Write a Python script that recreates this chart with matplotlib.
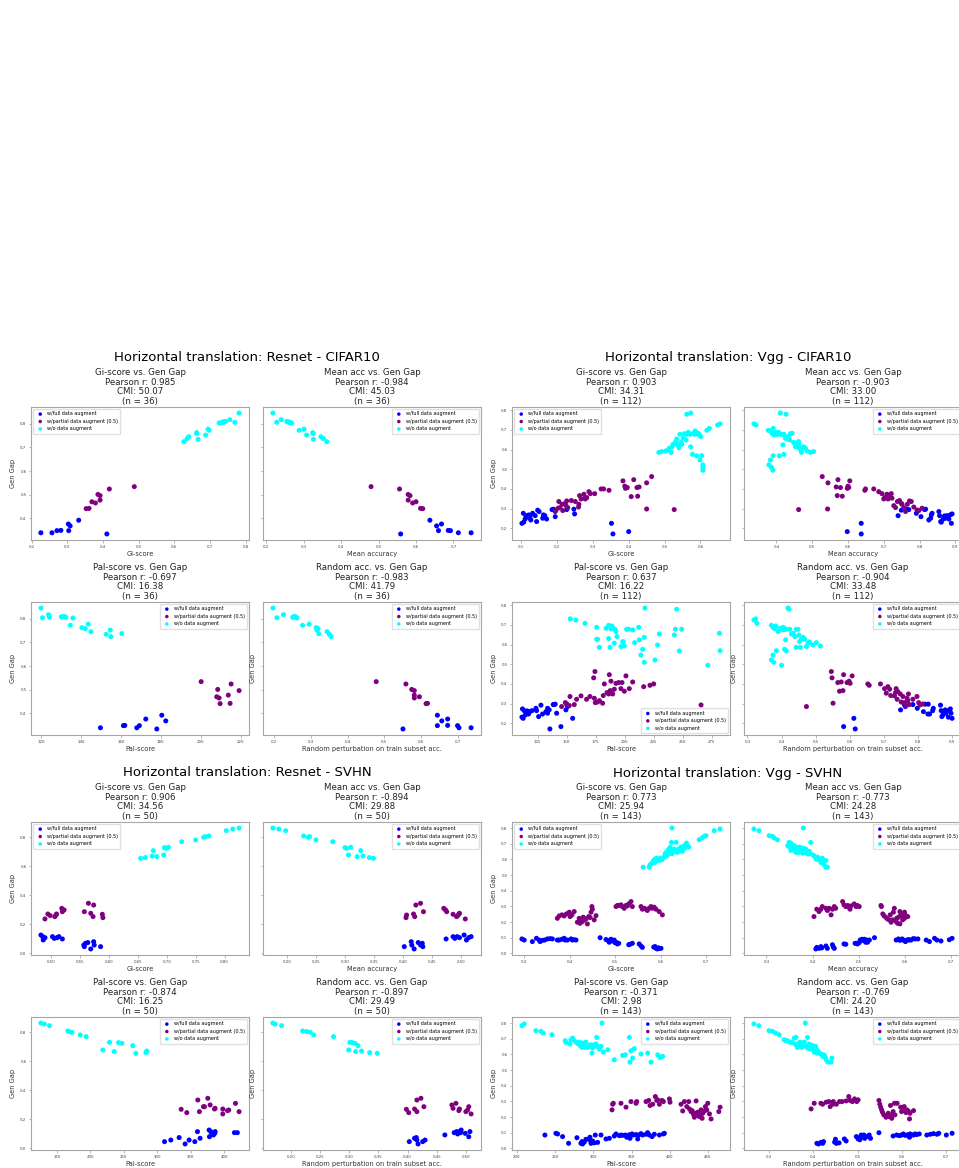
#!/usr/bin/env python3
# -*- coding: utf-8 -*-
"""
Scatter grids: score vs. generalisation gap (horizontal translation),
four model/dataset blocks of 2x2 panels.
"""

import matplotlib
matplotlib.use("Agg")
import matplotlib.pyplot as plt
from matplotlib.ticker import MultipleLocator

# ---------------------------------------------------------------------
# Resnet - CIFAR10  (n = 36)
rc_full_gap = [0.334, 0.339, 0.339, 0.348, 0.348, 0.349, 0.368, 0.376, 0.392]
rc_full_gi = [0.411, 0.226, 0.257, 0.271, 0.304, 0.282, 0.308, 0.303, 0.332]
rc_full_mean = [0.559, 0.713, 0.747, 0.660, 0.692, 0.686, 0.655, 0.668, 0.637]
rc_full_pal = [178.0, 149.8, 168.0, 161.3, 169.3, 162.0, 182.5, 172.5, 180.5]
rc_full_rand = [0.551, 0.704, 0.737, 0.700, 0.645, 0.673, 0.657, 0.673, 0.645]

rc_part_gap = [0.441, 0.442, 0.465, 0.470, 0.477, 0.496, 0.501, 0.524, 0.534]
rc_part_gi = [0.353, 0.361, 0.379, 0.369, 0.392, 0.392, 0.386, 0.418, 0.488]
rc_part_mean = [0.618, 0.612, 0.591, 0.600, 0.579, 0.584, 0.579, 0.556, 0.480]
rc_part_pal = [209.7, 214.7, 209.2, 208.0, 213.8, 219.2, 208.5, 215.2, 200.2]
rc_part_rand = [0.614, 0.618, 0.582, 0.596, 0.582, 0.582, 0.575, 0.559, 0.478]

rc_none_gap = [0.724, 0.734, 0.737, 0.745, 0.752, 0.758, 0.762, 0.772, 0.777,
               0.803, 0.804, 0.806, 0.806, 0.807, 0.808, 0.810, 0.817, 0.845]
rc_none_gi = [0.627, 0.667, 0.636, 0.641, 0.688, 0.663, 0.663, 0.698, 0.695,
              0.726, 0.731, 0.770, 0.739, 0.735, 0.740, 0.744, 0.756, 0.782]
rc_none_mean = [0.362, 0.326, 0.353, 0.346, 0.308, 0.326, 0.324, 0.288, 0.301,
                0.268, 0.265, 0.228, 0.262, 0.260, 0.257, 0.255, 0.240, 0.218]
rc_none_pal = [155.0, 152.7, 160.5, 145.0, 154.7, 142.2, 140.5, 134.7, 143.7,
               136.0, 120.8, 132.5, 124.3, 130.8, 130.2, 131.5, 123.8, 120.0]
rc_none_rand = [0.355, 0.350, 0.321, 0.344, 0.316, 0.319, 0.314, 0.277, 0.295,
                0.262, 0.207, 0.250, 0.256, 0.258, 0.253, 0.255, 0.225, 0.196]

rc_pearson = [0.985, -0.984, -0.697, -0.983]
rc_cmi = [50.07, 45.03, 16.38, 41.79]
rc_n = 36

# ---------------------------------------------------------------------
# Vgg - CIFAR10  (n = 112)
vc_full_gap = [0.171, 0.183, 0.225, 0.225, 0.231, 0.234, 0.242, 0.247, 0.247, 0.251,
               0.251, 0.259, 0.259, 0.263, 0.264, 0.264, 0.264, 0.268, 0.268, 0.273,
               0.276, 0.276, 0.285, 0.292, 0.295, 0.295, 0.297, 0.297]
vc_full_gi = [0.356, 0.400, 0.102, 0.352, 0.107, 0.143, 0.127, 0.171, 0.111, 0.124,
              0.160, 0.118, 0.195, 0.125, 0.113, 0.139, 0.166, 0.121, 0.162, 0.249,
              0.106, 0.132, 0.150, 0.146, 0.186, 0.227, 0.190, 0.247]
vc_full_mean = [0.637, 0.598, 0.889, 0.637, 0.861, 0.859, 0.826, 0.882, 0.866, 0.831,
                0.872, 0.804, 0.880, 0.870, 0.856, 0.877, 0.740, 0.886, 0.833, 0.891,
                0.791, 0.835, 0.854, 0.749, 0.770, 0.814, 0.817, 0.763]
vc_full_pal = [135.6, 145.1, 112.6, 155.2, 111.5, 125.9, 114.4, 129.3, 117.2, 133.6,
               141.4, 118.4, 132.2, 116.0, 113.5, 120.1, 124.1, 135.0, 149.4, 112.0,
               123.6, 133.6, 150.9, 127.9, 139.0, 138.5, 150.0, 140.2]
vc_full_rand = [0.616, 0.582, 0.900, 0.612, 0.889, 0.870, 0.873, 0.829, 0.834, 0.882,
                0.897, 0.816, 0.876, 0.885, 0.843, 0.868, 0.892, 0.880, 0.749, 0.895,
                0.798, 0.845, 0.763, 0.866, 0.785, 0.760, 0.830, 0.821]

vc_part_gap = [0.285, 0.290, 0.293, 0.295, 0.298, 0.302, 0.305, 0.305, 0.308, 0.315,
               0.322, 0.322, 0.327, 0.336, 0.336, 0.339, 0.341, 0.349, 0.349, 0.353,
               0.356, 0.361, 0.363, 0.366, 0.373, 0.376, 0.376, 0.386, 0.393, 0.400,
               0.400, 0.403, 0.407, 0.407, 0.410, 0.414, 0.431, 0.441, 0.447, 0.463]
vc_part_gi = [0.195, 0.216, 0.197, 0.527, 0.450, 0.203, 0.208, 0.230, 0.260, 0.225,
              0.214, 0.261, 0.223, 0.205, 0.251, 0.227, 0.240, 0.267, 0.279, 0.277,
              0.283, 0.407, 0.425, 0.263, 0.275, 0.293, 0.305, 0.289, 0.345, 0.323,
              0.330, 0.391, 0.396, 0.423, 0.429, 0.389, 0.450, 0.384, 0.414, 0.464]
vc_part_mean = [0.761, 0.798, 0.793, 0.462, 0.543, 0.807, 0.756, 0.733, 0.784, 0.728,
                0.751, 0.766, 0.749, 0.777, 0.738, 0.772, 0.744, 0.700, 0.712, 0.723,
                0.703, 0.716, 0.584, 0.570, 0.709, 0.721, 0.695, 0.686, 0.647, 0.649,
                0.672, 0.598, 0.579, 0.602, 0.567, 0.600, 0.544, 0.605, 0.572, 0.528]
vc_part_pal = [145.7, 152.3, 265.8, 156.6, 150.0, 181.0, 148.9, 174.7, 176.7, 178.2,
               167.2, 158.6, 173.9, 152.9, 170.1, 162.4, 181.6, 186.2, 189.7, 188.8,
               184.8, 187.4, 199.7, 187.6, 191.1, 204.0, 196.8, 216.4, 221.8, 225.0,
               182.5, 192.5, 194.8, 197.7, 206.9, 188.2, 173.3, 201.1, 186.8, 174.4]
vc_part_rand = [0.473, 0.765, 0.806, 0.775, 0.814, 0.551, 0.760, 0.802, 0.751, 0.770,
                0.739, 0.785, 0.768, 0.756, 0.797, 0.731, 0.720, 0.748, 0.772, 0.707,
                0.734, 0.741, 0.570, 0.580, 0.717, 0.702, 0.736, 0.712, 0.657, 0.653,
                0.690, 0.601, 0.592, 0.565, 0.575, 0.598, 0.548, 0.607, 0.582, 0.546]

vc_none_gap = [0.495, 0.510, 0.522, 0.547, 0.568, 0.569, 0.576, 0.586, 0.586, 0.590,
               0.593, 0.598, 0.607, 0.610, 0.614, 0.615, 0.624, 0.627, 0.627, 0.631,
               0.637, 0.641, 0.649, 0.654, 0.658, 0.666, 0.675, 0.678, 0.678, 0.678,
               0.678, 0.678, 0.681, 0.683, 0.683, 0.688, 0.688, 0.695, 0.698, 0.708,
               0.725, 0.731, 0.780, 0.786]
vc_none_gi = [0.607, 0.607, 0.607, 0.599, 0.590, 0.604, 0.578, 0.484, 0.518, 0.492,
              0.503, 0.510, 0.513, 0.540, 0.573, 0.521, 0.536, 0.524, 0.548, 0.529,
              0.546, 0.532, 0.560, 0.534, 0.552, 0.601, 0.597, 0.543, 0.562, 0.571,
              0.592, 0.583, 0.555, 0.580, 0.594, 0.566, 0.588, 0.585, 0.618, 0.625,
              0.648, 0.655, 0.562, 0.573]
vc_none_mean = [0.390, 0.386, 0.379, 0.383, 0.408, 0.391, 0.421, 0.470, 0.495, 0.504,
                0.486, 0.468, 0.481, 0.464, 0.476, 0.453, 0.418, 0.456, 0.462, 0.451,
                0.448, 0.462, 0.437, 0.430, 0.425, 0.433, 0.393, 0.411, 0.421, 0.400,
                0.402, 0.416, 0.439, 0.444, 0.388, 0.406, 0.397, 0.384, 0.377, 0.391,
                0.343, 0.337, 0.427, 0.411]
vc_none_pal = [271.6, 216.9, 226.1, 214.0, 247.1, 282.2, 215.5, 178.2, 187.4, 196.8,
               199.7, 228.4, 191.1, 208.6, 198.3, 198.9, 212.6, 175.9, 176.7, 186.2,
               216.9, 193.4, 242.8, 229.9, 281.6, 192.5, 206.9, 191.7, 201.7, 203.4,
               243.7, 249.1, 188.2, 184.0, 189.7, 212.1, 175.9, 189.1, 186.2, 165.8,
               158.0, 153.2, 244.8, 217.5]
vc_none_rand = [0.400, 0.377, 0.370, 0.375, 0.414, 0.385, 0.409, 0.455, 0.443, 0.473,
                0.514, 0.492, 0.478, 0.502, 0.482, 0.453, 0.412, 0.468, 0.458, 0.466,
                0.463, 0.439, 0.451, 0.429, 0.434, 0.390, 0.406, 0.448, 0.400, 0.414,
                0.424, 0.443, 0.380, 0.395, 0.409, 0.375, 0.404, 0.383, 0.370, 0.328,
                0.319, 0.324, 0.422, 0.419]

vc_pearson = [0.903, -0.903, 0.637, -0.904]
vc_cmi = [34.31, 33.00, 16.22, 33.48]
vc_n = 112

# ---------------------------------------------------------------------
# Resnet - SVHN  (n = 50)
rs_full_gap = [0.030, 0.046, 0.046, 0.057, 0.057, 0.069, 0.074, 0.080, 0.092,
               0.099, 0.103, 0.108, 0.108, 0.115, 0.115, 0.115, 0.126]
rs_full_gi = [0.569, 0.586, 0.558, 0.557, 0.575, 0.560, 0.564, 0.574, 0.487,
              0.520, 0.506, 0.490, 0.511, 0.486, 0.503, 0.514, 0.483]
rs_full_mean = [0.419, 0.402, 0.434, 0.415, 0.430, 0.433, 0.426, 0.414, 0.509,
                0.474, 0.489, 0.497, 0.513, 0.486, 0.493, 0.517, 0.505]
rs_full_pal = [341.7, 310.9, 356.2, 320.3, 347.7, 364.1, 332.8, 378.1, 384.1,
               381.6, 386.0, 419.8, 415.4, 380.1, 360.2, 386.6, 377.6]
rs_full_rand = [0.418, 0.403, 0.426, 0.416, 0.430, 0.412, 0.415, 0.505, 0.464,
                0.486, 0.499, 0.480, 0.491, 0.489, 0.484, 0.507, 0.492]

rs_part_gap = [0.237, 0.246, 0.253, 0.253, 0.260, 0.264, 0.269, 0.271,
               0.271, 0.276, 0.287, 0.287, 0.299, 0.310, 0.333, 0.345]
rs_part_gi = [0.490, 0.590, 0.507, 0.573, 0.499, 0.509, 0.589, 0.495,
              0.510, 0.569, 0.520, 0.558, 0.523, 0.519, 0.574, 0.565]
rs_part_mean = [0.507, 0.405, 0.492, 0.420, 0.494, 0.406, 0.486, 0.496,
                0.418, 0.497, 0.435, 0.475, 0.473, 0.470, 0.422, 0.430]
rs_part_pal = [398.0, 344.2, 363.1, 422.4, 405.0, 407.0, 335.8, 385.6,
               398.0, 386.6, 369.1, 370.6, 379.1, 417.0, 360.7, 375.6]
rs_part_rand = [0.509, 0.402, 0.416, 0.500, 0.488, 0.503, 0.398, 0.489,
                0.412, 0.478, 0.505, 0.428, 0.476, 0.483, 0.416, 0.423]

rs_none_gap = [0.655, 0.660, 0.667, 0.671, 0.678, 0.708, 0.724, 0.729, 0.731,
               0.770, 0.782, 0.800, 0.805, 0.809, 0.846, 0.857, 0.864]
rs_none_gi = [0.655, 0.663, 0.683, 0.675, 0.695, 0.677, 0.699, 0.696, 0.703,
              0.726, 0.750, 0.764, 0.767, 0.773, 0.803, 0.814, 0.825]
rs_none_mean = [0.349, 0.342, 0.321, 0.331, 0.306, 0.327, 0.303, 0.300, 0.310,
                0.279, 0.250, 0.237, 0.239, 0.229, 0.198, 0.186, 0.176]
rs_none_pal = [268.0, 283.0, 235.7, 284.5, 218.7, 263.5, 247.1, 242.1, 228.7,
               193.8, 184.9, 172.4, 168.4, 166.4, 139.0, 131.1, 126.1]
rs_none_rand = [0.348, 0.335, 0.311, 0.321, 0.299, 0.315, 0.310, 0.305, 0.301,
                0.273, 0.239, 0.233, 0.227, 0.220, 0.184, 0.173, 0.169]

rs_pearson = [0.906, -0.894, -0.874, -0.897]
rs_cmi = [34.56, 29.88, 16.25, 29.49]
rs_n = 50

# ---------------------------------------------------------------------
# Vgg - SVHN  (n = 143)
vs_full_gap = [0.028, 0.032, 0.032, 0.032, 0.035, 0.038, 0.040, 0.043, 0.047, 0.055,
               0.058, 0.060, 0.060, 0.064, 0.064, 0.068, 0.071, 0.071, 0.075, 0.075,
               0.079, 0.081, 0.083, 0.085, 0.085, 0.085, 0.085, 0.085, 0.085, 0.085,
               0.085, 0.085, 0.085, 0.087, 0.088, 0.090, 0.090, 0.092, 0.092, 0.092,
               0.092, 0.094, 0.096, 0.096, 0.100]
vs_full_gi = [0.593, 0.590, 0.597, 0.601, 0.595, 0.560, 0.585, 0.588, 0.557, 0.530,
              0.533, 0.505, 0.553, 0.508, 0.538, 0.500, 0.487, 0.502, 0.318, 0.335,
              0.494, 0.485, 0.340, 0.300, 0.333, 0.345, 0.373, 0.377, 0.390, 0.395,
              0.406, 0.414, 0.498, 0.410, 0.480, 0.383, 0.491, 0.295, 0.351, 0.362,
              0.403, 0.357, 0.327, 0.388, 0.467]
vs_full_mean = [0.407, 0.414, 0.432, 0.447, 0.420, 0.409, 0.445, 0.418, 0.429, 0.443,
                0.472, 0.468, 0.497, 0.492, 0.495, 0.501, 0.515, 0.519, 0.601, 0.653,
                0.678, 0.510, 0.589, 0.609, 0.503, 0.517, 0.523, 0.581, 0.596, 0.604,
                0.613, 0.646, 0.669, 0.696, 0.608, 0.507, 0.512, 0.586, 0.594, 0.622,
                0.628, 0.618, 0.664, 0.702, 0.534]
vs_full_pal = [286.0, 267.7, 283.8, 297.0, 301.3, 305.7, 288.2, 285.2, 299.1, 294.8,
               290.4, 358.1, 316.6, 321.0, 348.0, 278.6, 295.6, 343.7, 376.9, 259.8,
               327.5, 334.1, 338.4, 352.4, 359.4, 364.6, 373.4, 386.5, 236.7, 302.6,
               310.1, 336.2, 341.9, 347.2, 355.9, 369.0, 379.9, 391.7, 253.3, 329.7,
               350.7, 362.4, 393.0, 251.1, 371.2]
vs_full_rand = [0.412, 0.421, 0.452, 0.408, 0.458, 0.417, 0.448, 0.423, 0.474, 0.505,
                0.450, 0.470, 0.501, 0.516, 0.529, 0.503, 0.512, 0.617, 0.497, 0.520,
                0.580, 0.594, 0.607, 0.614, 0.626, 0.656, 0.700, 0.508, 0.514, 0.526,
                0.588, 0.599, 0.611, 0.622, 0.633, 0.664, 0.679, 0.603, 0.618, 0.630,
                0.639, 0.671, 0.683, 0.713, 0.548]

vs_part_gap = [0.188, 0.192, 0.199, 0.203, 0.214, 0.214, 0.214, 0.220, 0.224, 0.224,
               0.229, 0.231, 0.235, 0.235, 0.239, 0.239, 0.241, 0.246, 0.246, 0.246,
               0.252, 0.263, 0.263, 0.267, 0.267, 0.274, 0.282, 0.282, 0.282, 0.282,
               0.288, 0.288, 0.288, 0.288, 0.295, 0.299, 0.299, 0.299, 0.299, 0.299,
               0.299, 0.303, 0.306, 0.306, 0.306, 0.310, 0.316, 0.331]
vs_part_gi = [0.439, 0.423, 0.417, 0.428, 0.425, 0.432, 0.454, 0.436, 0.373, 0.421,
              0.445, 0.430, 0.401, 0.442, 0.377, 0.388, 0.458, 0.383, 0.405, 0.604,
              0.393, 0.399, 0.447, 0.410, 0.597, 0.571, 0.450, 0.568, 0.590, 0.560,
              0.520, 0.564, 0.575, 0.582, 0.586, 0.449, 0.502, 0.516, 0.538, 0.557,
              0.579, 0.527, 0.505, 0.509, 0.524, 0.513, 0.530, 0.535]
vs_part_mean = [0.589, 0.584, 0.570, 0.581, 0.566, 0.595, 0.573, 0.562, 0.582, 0.599,
                0.559, 0.586, 0.606, 0.403, 0.555, 0.595, 0.602, 0.568, 0.591, 0.440,
                0.552, 0.575, 0.599, 0.414, 0.589, 0.432, 0.443, 0.481, 0.409, 0.418,
                0.436, 0.450, 0.577, 0.429, 0.479, 0.549, 0.421, 0.447, 0.472, 0.494,
                0.501, 0.483, 0.476, 0.497, 0.548, 0.468, 0.490, 0.465]
vs_part_pal = [454.1, 442.4, 432.3, 438.9, 431.4, 435.4, 439.7, 452.0, 433.6, 443.2,
               430.1, 436.7, 427.9, 464.2, 445.4, 417.0, 429.3, 441.0, 448.5, 324.5,
               425.8, 465.9, 342.8, 422.3, 446.7, 374.2, 325.3, 377.7, 386.5, 414.8,
               449.8, 326.2, 336.2, 355.9, 400.4, 349.3, 369.0, 391.7, 356.8, 419.2,
               424.9, 434.5, 372.5, 383.0, 390.0, 384.3, 399.6, 381.2]
vs_part_rand = [0.617, 0.577, 0.564, 0.571, 0.567, 0.584, 0.559, 0.579, 0.569, 0.618,
                0.609, 0.556, 0.599, 0.580, 0.607, 0.614, 0.626, 0.602, 0.554, 0.611,
                0.395, 0.597, 0.552, 0.605, 0.438, 0.574, 0.421, 0.444, 0.452, 0.550,
                0.589, 0.402, 0.583, 0.417, 0.429, 0.435, 0.445, 0.465, 0.488, 0.498,
                0.459, 0.474, 0.495, 0.548, 0.483, 0.501, 0.493, 0.480]

vs_none_gap = [0.551, 0.551, 0.566, 0.577, 0.581, 0.588, 0.594, 0.598, 0.598, 0.603,
               0.609, 0.609, 0.615, 0.624, 0.630, 0.635, 0.637, 0.641, 0.645, 0.645,
               0.645, 0.652, 0.652, 0.652, 0.656, 0.658, 0.658, 0.662, 0.662, 0.667,
               0.667, 0.669, 0.673, 0.677, 0.679, 0.679, 0.679, 0.688, 0.688, 0.694,
               0.705, 0.709, 0.709, 0.726, 0.737, 0.748, 0.752, 0.784, 0.795, 0.801]
vs_none_gi = [0.562, 0.575, 0.577, 0.581, 0.588, 0.584, 0.597, 0.586, 0.603, 0.597,
              0.601, 0.591, 0.608, 0.613, 0.615, 0.610, 0.625, 0.619, 0.626, 0.637,
              0.612, 0.623, 0.634, 0.648, 0.641, 0.629, 0.635, 0.647, 0.617, 0.630,
              0.640, 0.643, 0.654, 0.621, 0.650, 0.662, 0.645, 0.652, 0.659, 0.656,
              0.657, 0.624, 0.634, 0.685, 0.691, 0.696, 0.700, 0.718, 0.731, 0.625]
vs_none_mean = [0.429, 0.432, 0.425, 0.423, 0.418, 0.420, 0.429, 0.413, 0.416, 0.408,
                0.407, 0.421, 0.411, 0.403, 0.400, 0.391, 0.389, 0.378, 0.365, 0.369,
                0.384, 0.393, 0.362, 0.374, 0.364, 0.371, 0.353, 0.358, 0.367, 0.385,
                0.360, 0.382, 0.376, 0.356, 0.364, 0.351, 0.372, 0.346, 0.360, 0.355,
                0.353, 0.349, 0.396, 0.324, 0.317, 0.313, 0.306, 0.284, 0.273, 0.380]
vs_none_pal = [348.0, 375.5, 327.5, 351.5, 387.3, 390.8, 338.4, 341.9, 384.3, 362.4,
               371.2, 298.3, 313.1, 349.3, 319.0, 307.9, 353.7, 299.1, 285.2, 289.5,
               292.6, 302.6, 305.7, 310.1, 283.0, 294.8, 288.2, 301.3, 297.0, 303.5,
               269.4, 279.5, 286.0, 264.2, 281.7, 290.4, 277.3, 263.3, 275.1, 270.7,
               272.9, 304.4, 347.2, 245.9, 234.5, 231.4, 224.9, 206.6, 209.6, 311.4]
vs_none_rand = [0.433, 0.440, 0.429, 0.442, 0.427, 0.421, 0.425, 0.420, 0.423, 0.417,
                0.414, 0.408, 0.402, 0.410, 0.400, 0.392, 0.406, 0.387, 0.397, 0.364,
                0.374, 0.383, 0.389, 0.405, 0.368, 0.377, 0.398, 0.362, 0.372, 0.391,
                0.359, 0.367, 0.376, 0.352, 0.370, 0.380, 0.347, 0.342, 0.338, 0.334,
                0.357, 0.361, 0.387, 0.323, 0.315, 0.308, 0.300, 0.277, 0.266, 0.382]

vs_pearson = [0.773, -0.773, -0.371, -0.769]
vs_cmi = [25.94, 24.28, 2.98, 24.20]
vs_n = 143

# ---------------------------------------------------------------------
GROUP_LABELS = ["w/full data augment", "w/partial data augment (0.5)", "w/o data augment"]
GROUP_COLORS = ["blue", "purple", "cyan"]
PANEL_NAMES = ["Gi-score", "Mean acc", "Pal-score", "Random acc."]
X_LABELS = ["Gi-score", "Mean accuracy", "Pal-score",
            "Random perturbation on train subset acc."]

W, H = 959, 1168
fig = plt.figure(figsize=(W / 100, H / 100), dpi=100)


def px_axes(left, top, width, height, **kw):
    return fig.add_axes([left / W, 1 - (top + height) / H, width / W, height / H], **kw)


def draw_block(x0, y0, title, gaps, panels, pearson, cmi, n, xsteps, ystep, legend_locs):
    fig.text((x0 + 247) / W, 1 - (y0 + 13) / H, title,
             ha="center", va="center", fontsize=9.5)
    spots = [(x0 + 31, y0 + 62), (x0 + 263, y0 + 62),
             (x0 + 31, y0 + 257), (x0 + 263, y0 + 257)]
    axes = []
    for k, (left, top) in enumerate(spots):
        share = axes[k - 1] if k % 2 == 1 else None
        ax = px_axes(left, top, 218, 133, sharey=share)
        axes.append(ax)
        for g in range(3):
            ax.scatter(panels[k][g], gaps[g], s=13, c=GROUP_COLORS[g],
                       edgecolors="none", label=GROUP_LABELS[g])
        ax.set_title(f"{PANEL_NAMES[k]} vs. Gen Gap\nPearson r: {pearson[k]:.3f}\n"
                     f"CMI: {cmi[k]:.2f}\n(n = {n})",
                     fontsize=6.2, pad=2.5, linespacing=1.05, color="#222222")
        ax.set_xlabel(X_LABELS[k], fontsize=4.8, labelpad=1.5, color="#333333")
        if k != 1:
            ax.set_ylabel("Gen Gap", fontsize=4.8, labelpad=3, color="#333333")
        ax.xaxis.set_major_locator(MultipleLocator(xsteps[k]))
        ax.yaxis.set_major_locator(MultipleLocator(ystep))
        ax.tick_params(labelsize=2.8, length=1.8, width=0.4, pad=1.5,
                       color="0.5", labelcolor="#444444")
        if k % 2 == 1:
            ax.tick_params(labelleft=False)
        for sp in ax.spines.values():
            sp.set_color("0.65")
            sp.set_linewidth(0.8)
        ax.legend(loc=legend_locs[k], fontsize=3.5, markerscale=0.7,
                  borderaxespad=0.4, borderpad=0.5, handletextpad=0.4,
                  labelspacing=0.5, framealpha=0.8, edgecolor="0.85")


draw_block(0, 345, "Horizontal translation: Resnet - CIFAR10",
           [rc_full_gap, rc_part_gap, rc_none_gap],
           [[rc_full_gi, rc_part_gi, rc_none_gi],
            [rc_full_mean, rc_part_mean, rc_none_mean],
            [rc_full_pal, rc_part_pal, rc_none_pal],
            [rc_full_rand, rc_part_rand, rc_none_rand]],
           rc_pearson, rc_cmi, rc_n, [0.1, 0.1, 20, 0.1], 0.1,
           ["upper left", "upper right", "upper right", "upper right"])

draw_block(481, 345, "Horizontal translation: Vgg - CIFAR10",
           [vc_full_gap, vc_part_gap, vc_none_gap],
           [[vc_full_gi, vc_part_gi, vc_none_gi],
            [vc_full_mean, vc_part_mean, vc_none_mean],
            [vc_full_pal, vc_part_pal, vc_none_pal],
            [vc_full_rand, vc_part_rand, vc_none_rand]],
           vc_pearson, vc_cmi, vc_n, [0.1, 0.1, 25, 0.1], 0.1,
           ["upper left", "upper right", "lower right", "upper right"])

draw_block(0, 760, "Horizontal translation: Resnet - SVHN",
           [rs_full_gap, rs_part_gap, rs_none_gap],
           [[rs_full_gi, rs_part_gi, rs_none_gi],
            [rs_full_mean, rs_part_mean, rs_none_mean],
            [rs_full_pal, rs_part_pal, rs_none_pal],
            [rs_full_rand, rs_part_rand, rs_none_rand]],
           rs_pearson, rs_cmi, rs_n, [0.05, 0.05, 50, 0.05], 0.2,
           ["upper left", "upper right", "upper right", "upper right"])

draw_block(481, 760, "Horizontal translation: Vgg - SVHN",
           [vs_full_gap, vs_part_gap, vs_none_gap],
           [[vs_full_gi, vs_part_gi, vs_none_gi],
            [vs_full_mean, vs_part_mean, vs_none_mean],
            [vs_full_pal, vs_part_pal, vs_none_pal],
            [vs_full_rand, vs_part_rand, vs_none_rand]],
           vs_pearson, vs_cmi, vs_n, [0.1, 0.1, 50, 0.1], 0.1,
           ["upper left", "upper right", "upper right", "upper right"])

fig.savefig("out.png", dpi=100)
